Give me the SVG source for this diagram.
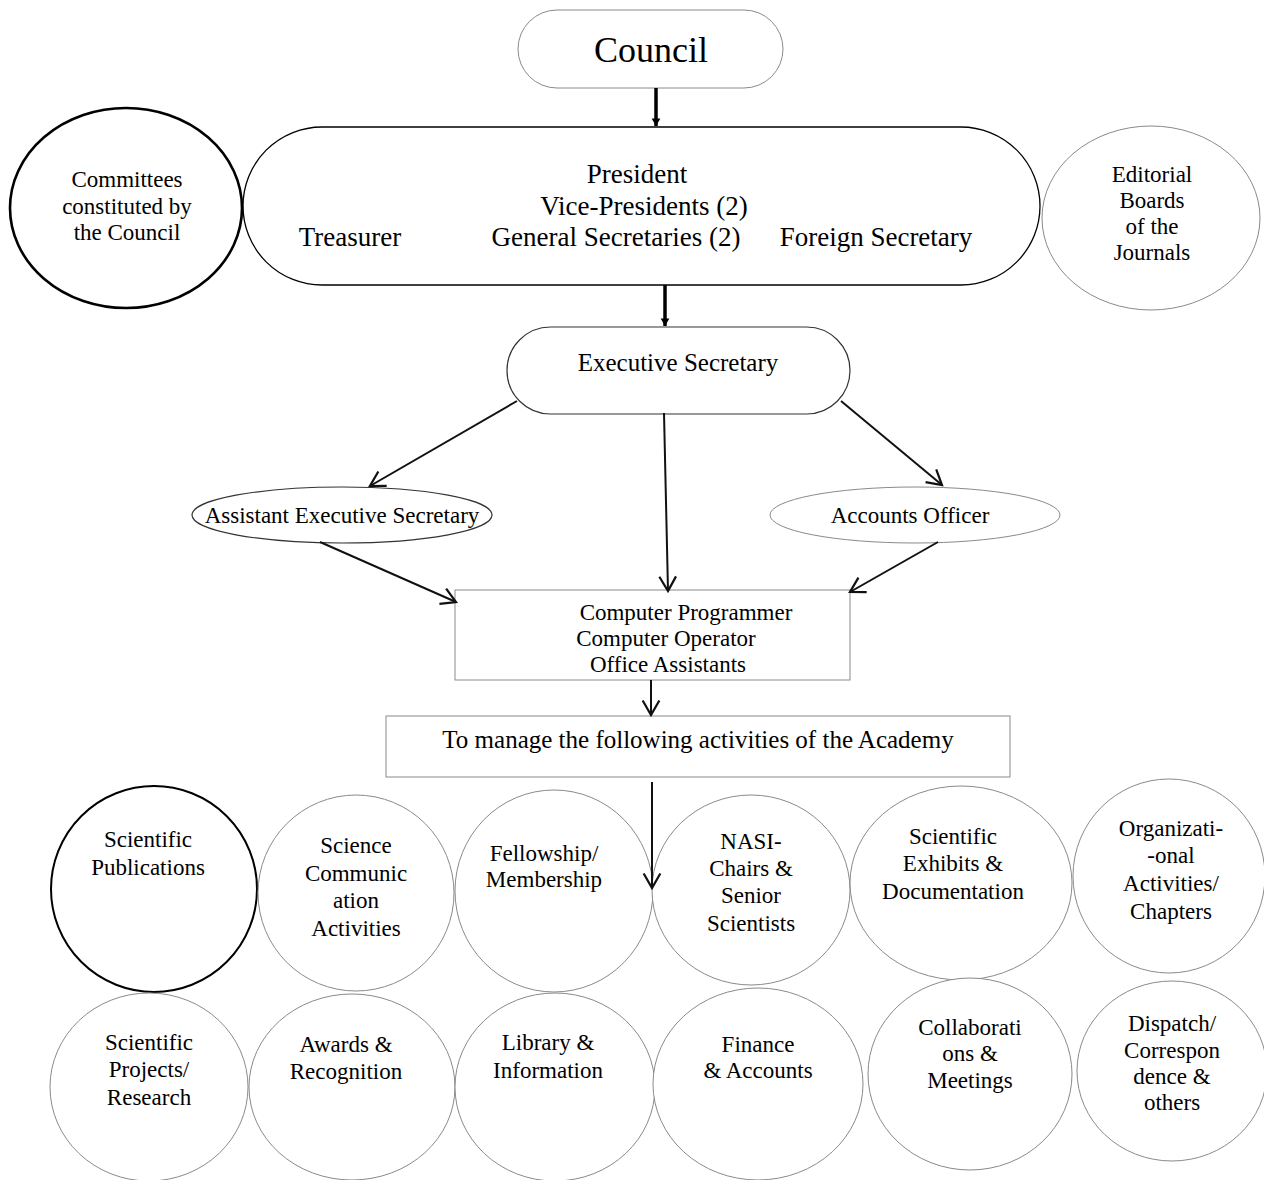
<svg xmlns="http://www.w3.org/2000/svg" width="1264" height="1180" viewBox="0 0 1264 1180">
<style>
text{fill:#000;text-anchor:middle}
.t27{font-size:27px}.t23{font-size:23px}.t25{font-size:25px}
.thin{fill:#fff;stroke:#8a8a8a;stroke-width:1}
.dark{fill:#fff;stroke:#333;stroke-width:1.2}
.conn{stroke:#111;stroke-width:2;fill:none}
.thick{stroke:#000;stroke-width:3.5;fill:none}
</style>
<defs>
<marker id="open" markerUnits="userSpaceOnUse" markerWidth="20" markerHeight="20" viewBox="-14 -9 16 18" refX="0" refY="0" orient="auto">
<path d="M-13,-7.5 L0,0 L-13,7.5" fill="none" stroke="#111" stroke-width="2"/>
</marker>
<marker id="solid" markerUnits="userSpaceOnUse" markerWidth="10" markerHeight="10" viewBox="-6 -4 7 8" refX="0" refY="0" orient="auto">
<path d="M-6,-3.5 L0,0 L-6,3.5 Z" fill="#000"/>
</marker>
</defs>
<rect width="1264" height="1180" fill="#fff"/>
<g font-family="Liberation Serif, Tinos, DejaVu Serif, serif">
<g id="council"><rect class="thin" x="518" y="10" width="265" height="78" rx="39"/><text x="651" y="62" style="font-size:36px">Council</text></g>
<g id="officers"><rect x="243" y="127" width="797" height="158" rx="79" fill="#fff" stroke="#000" stroke-width="1.3"/>
<text class="t27" x="637" y="183">President</text>
<text class="t27" x="644" y="215">Vice-Presidents (2)</text>
<text class="t27" x="616" y="246">General Secretaries (2)</text>
<text class="t27" x="350" y="246">Treasurer</text>
<text class="t27" x="876" y="246">Foreign Secretary</text></g>
<g id="committees"><ellipse cx="126" cy="208" rx="116" ry="100" fill="#fff" stroke="#000" stroke-width="2.6"/>
<text class="t23" x="127" y="187">Committees</text><text class="t23" x="127" y="214">constituted by</text><text class="t23" x="127" y="240">the Council</text></g>
<g id="editorial"><ellipse class="thin" cx="1151" cy="218" rx="109" ry="92"/>
<text class="t23" x="1152" y="182">Editorial</text><text class="t23" x="1152" y="208">Boards</text><text class="t23" x="1152" y="234">of the</text><text class="t23" x="1152" y="260">Journals</text></g>
<g id="exec"><rect class="dark" x="507" y="327" width="343" height="87" rx="43.5" stroke="#555"/><text class="t25" x="678" y="371">Executive Secretary</text></g>
<g id="asst"><ellipse class="dark" cx="342" cy="515" rx="150" ry="28" stroke="#555"/><text class="t23" x="342" y="523">Assistant Executive Secretary</text></g>
<g id="accounts"><ellipse class="thin" cx="915" cy="515" rx="145" ry="28"/><text class="t23" x="910" y="523">Accounts Officer</text></g>
<g id="staff"><rect class="thin" x="455" y="590" width="395" height="90"/>
<text class="t23" x="686" y="620">Computer Programmer</text><text class="t23" x="666" y="646">Computer Operator</text><text class="t23" x="668" y="672">Office Assistants</text></g>
<g id="manage"><rect class="thin" x="386" y="716" width="624" height="61" stroke="#666"/><text class="t25" x="698" y="748">To manage the following activities of the Academy</text></g>
<g id="a1"><ellipse cx="154" cy="889" rx="103" ry="103" fill="#fff" stroke="#000" stroke-width="2"/><text class="t23" x="148" y="847">Scientific</text><text class="t23" x="148" y="875">Publications</text></g>
<g id="a2"><ellipse class="thin" cx="356" cy="893" rx="98" ry="98"/><text class="t23" x="356" y="853">Science</text><text class="t23" x="356" y="881">Communic</text><text class="t23" x="356" y="908">ation</text><text class="t23" x="356" y="936">Activities</text></g>
<g id="a3"><ellipse class="thin" cx="554" cy="891" rx="99" ry="101"/><text class="t23" x="544" y="861">Fellowship/</text><text class="t23" x="544" y="887">Membership</text></g>
<g id="a4"><ellipse class="thin" cx="751" cy="890" rx="99" ry="95"/><text class="t23" x="751" y="849">NASI-</text><text class="t23" x="751" y="876">Chairs &amp;</text><text class="t23" x="751" y="903">Senior</text><text class="t23" x="751" y="931">Scientists</text></g>
<g id="a5"><ellipse class="thin" cx="961" cy="883" rx="111" ry="97"/><text class="t23" x="953" y="844">Scientific</text><text class="t23" x="953" y="871">Exhibits &amp;</text><text class="t23" x="953" y="899">Documentation</text></g>
<g id="a6"><ellipse class="thin" cx="1169" cy="876" rx="96" ry="97"/><text class="t23" x="1171" y="836">Organizati-</text><text class="t23" x="1171" y="863">-onal</text><text class="t23" x="1171" y="891">Activities/</text><text class="t23" x="1171" y="919">Chapters</text></g>
<g id="b1"><ellipse class="thin" cx="149" cy="1087" rx="99" ry="94"/><text class="t23" x="149" y="1050">Scientific</text><text class="t23" x="149" y="1077">Projects/</text><text class="t23" x="149" y="1105">Research</text></g>
<g id="b2"><ellipse class="thin" cx="352" cy="1087" rx="103" ry="93"/><text class="t23" x="346" y="1052">Awards &amp;</text><text class="t23" x="346" y="1079">Recognition</text></g>
<g id="b3"><ellipse class="thin" cx="555" cy="1087" rx="100" ry="94"/><text class="t23" x="548" y="1050">Library &amp;</text><text class="t23" x="548" y="1078">Information</text></g>
<g id="b4"><ellipse class="thin" cx="758" cy="1084" rx="105" ry="96"/><text class="t23" x="758" y="1052">Finance</text><text class="t23" x="758" y="1078">&amp; Accounts</text></g>
<g id="b5"><ellipse class="thin" cx="970" cy="1074" rx="102" ry="96"/><text class="t23" x="970" y="1035">Collaborati</text><text class="t23" x="970" y="1061">ons &amp;</text><text class="t23" x="970" y="1088">Meetings</text></g>
<g id="b6"><ellipse class="thin" cx="1172" cy="1071" rx="95" ry="90"/><text class="t23" x="1172" y="1031">Dispatch/</text><text class="t23" x="1172" y="1058">Correspon</text><text class="t23" x="1172" y="1084">dence &amp;</text><text class="t23" x="1172" y="1110">others</text></g>
</g>
<g id="connectors">
<line class="thick" x1="656" y1="88" x2="656" y2="126" marker-end="url(#solid)"/>
<line class="thick" x1="665" y1="285" x2="665" y2="326" marker-end="url(#solid)"/>
<line class="conn" x1="517" y1="401" x2="370" y2="486" marker-end="url(#open)"/>
<line class="conn" x1="664" y1="413" x2="668" y2="591" marker-end="url(#open)"/>
<line class="conn" x1="841" y1="401" x2="942" y2="485" marker-end="url(#open)"/>
<line class="conn" x1="320" y1="542" x2="456" y2="602" marker-end="url(#open)"/>
<line class="conn" x1="938" y1="542" x2="850" y2="592" marker-end="url(#open)"/>
<line class="conn" x1="651" y1="680" x2="651" y2="715" marker-end="url(#open)"/>
<line class="conn" x1="652" y1="782" x2="652" y2="888" marker-end="url(#open)"/>
</g>
</svg>
